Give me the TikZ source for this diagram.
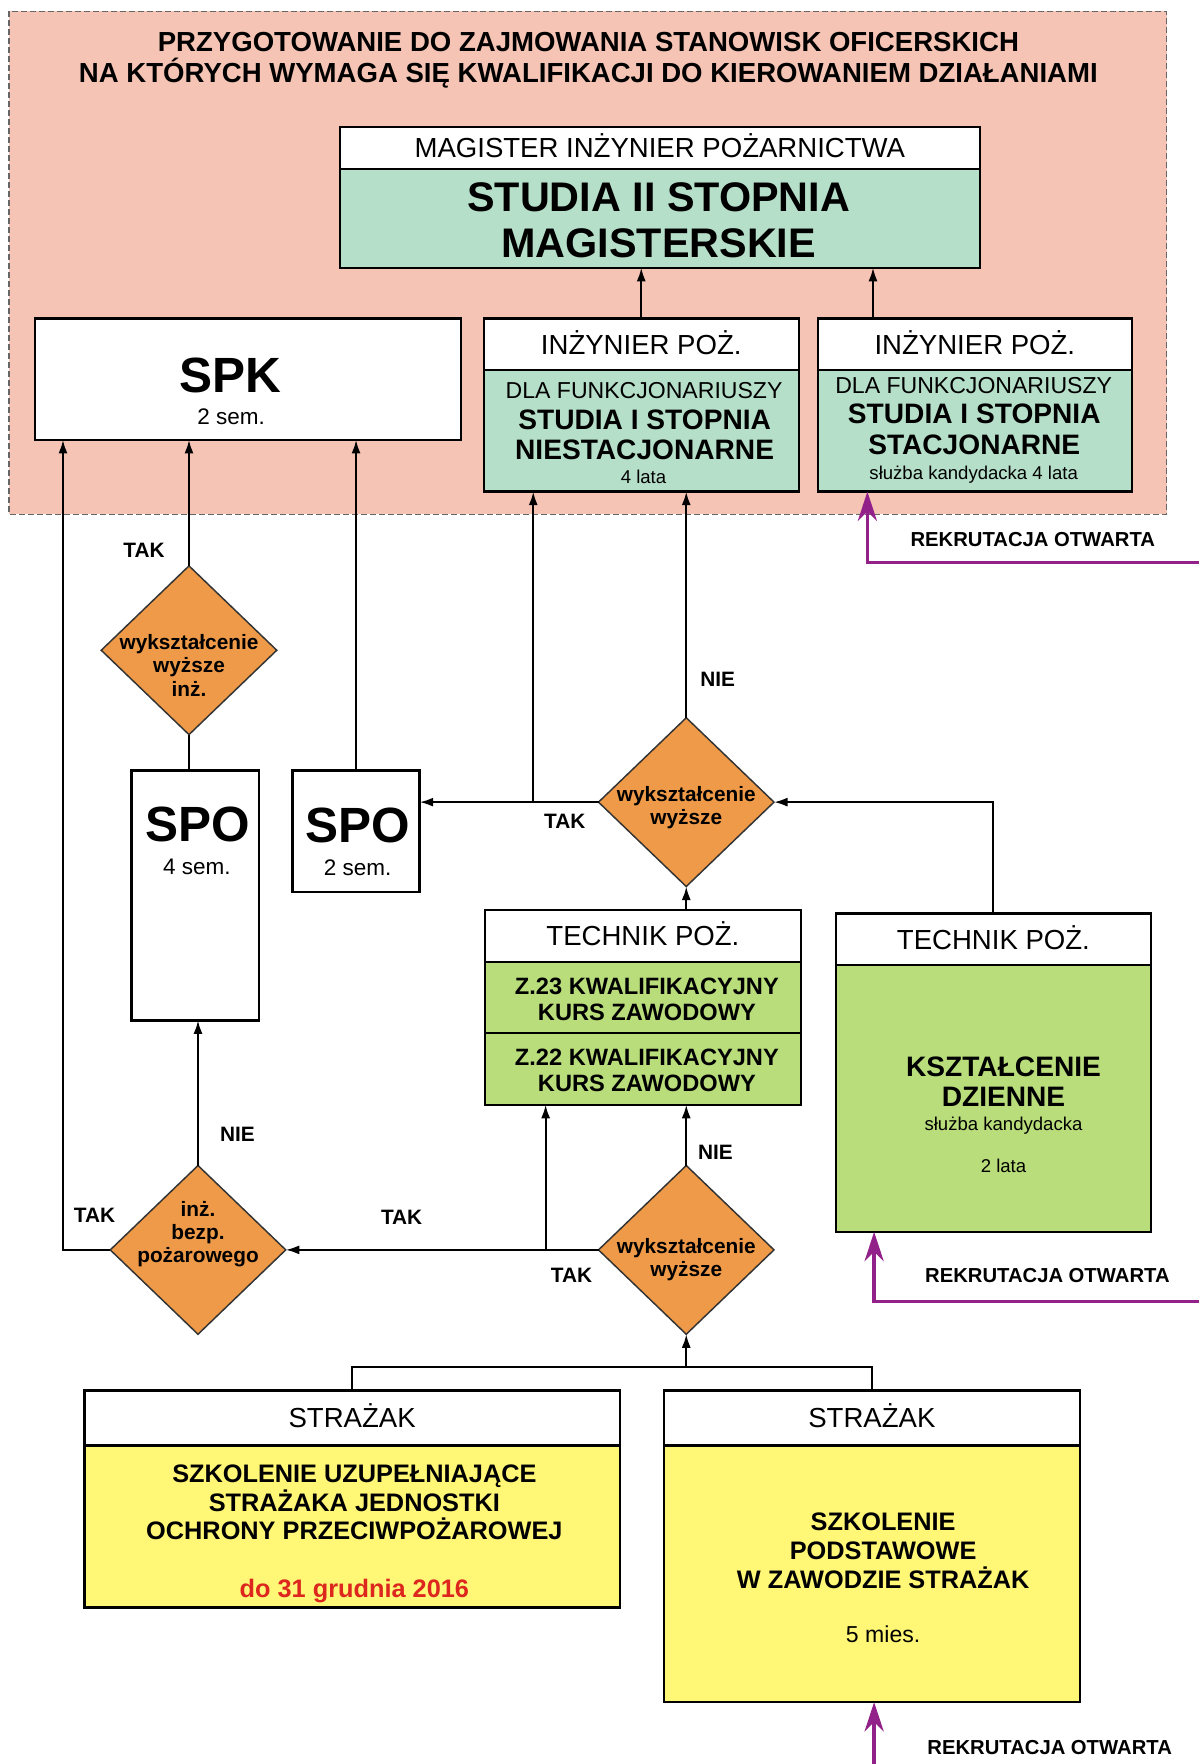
\documentclass[tikz,border=0pt]{standalone}
\usepackage{fontspec}
\setmainfont{Liberation Sans}
\usetikzlibrary{shapes.geometric,arrows.meta}

\begin{document}
\begin{tikzpicture}[x=1pt,y=-1pt,
  stagebox/.style={draw, line width=2.2pt, inner sep=0pt, outer sep=0pt, anchor=north west},
  headbox/.style={stagebox, fill=white, text height=17.5pt, text depth=0pt, font=\fontsize{24.5}{27}\selectfont},
  decision/.style={diamond, draw=black!80, line width=1.3pt, fill=decorange, inner sep=0pt, outer sep=0pt, minimum width=156pt, minimum height=150pt},
  dectext/.style={align=center, font=\bfseries\fontsize{18.5}{20.5}\selectfont},
  answer/.style={font=\bfseries\fontsize{18.5}{20}\selectfont},
  rectext/.style={font=\bfseries\fontsize{18}{20}\selectfont},
  bigname/.style={anchor=base, font=\bfseries\fontsize{44}{48}\selectfont},
  semtext/.style={anchor=base, font=\fontsize{20}{24}\selectfont},
  dlatext/.style={anchor=base, font=\fontsize{20.5}{24}\selectfont},
  smalltext/.style={anchor=base, font=\fontsize{16.5}{19}\selectfont},
  inztext/.style={align=center, font=\bfseries\fontsize{25}{27}\selectfont},
  kurstext/.style={align=center, font=\bfseries\fontsize{21}{23}\selectfont},
  szkoltext/.style={align=center, font=\bfseries\fontsize{22.5}{25.5}\selectfont},
  plainline/.style={line width=1.8pt},
  link/.style={plainline, -{Latex[length=12pt,width=8pt]}},
  recruit/.style={draw=recpurple, line width=3pt, -{Stealth[length=26pt,width=17pt]}}]

  % Define colors for the fills
  \definecolor{bgpink}{RGB}{246,196,180}
  \definecolor{mint}{RGB}{181,223,200}
  \definecolor{limefill}{RGB}{184,221,122}
  \definecolor{yellowfill}{RGB}{255,247,117}
  \definecolor{decorange}{RGB}{238,154,72}
  \definecolor{recpurple}{RGB}{146,33,137}
  \definecolor{datered}{RGB}{220,38,30}

  \useasboundingbox (0,0) rectangle (1066,1568);

  % Officer area in the background
  \draw[dash pattern=on 5pt off 3pt, draw=black!60, line width=1pt, fill=bgpink] (8,10) rectangle (1037,457);
  \node[font=\bfseries\fontsize{24.5}{27}\selectfont, align=center] (title) at (523,53.5)
    {PRZYGOTOWANIE DO ZAJMOWANIA STANOWISK OFICERSKICH\\NA KTÓRYCH WYMAGA SIĘ KWALIFIKACJI DO KIEROWANIEM DZIAŁANIAMI};

  % Master studies
  \node[headbox, minimum width=569pt, minimum height=37pt] (mgrhead) at (302,113) {MAGISTER INŻYNIER POŻARNICTWA};
  \node[stagebox, fill=mint, minimum width=569pt, minimum height=88pt] (mgr) at (302,150) {};
  \node[align=center, font=\bfseries\fontsize{36.75}{41}\selectfont] (mgrtext) at (585.5,196) {STUDIA II STOPNIA\\MAGISTERSKIE};

  % SPK
  \node[stagebox, fill=white, minimum width=379pt, minimum height=108pt] (spk) at (31,283) {};
  \node[bigname] (spkname) at (205,349) {SPK};
  \node[semtext] (spksem) at (205.5,377) {2 sem.};

  % Engineer studies
  \node[headbox, minimum width=280pt, minimum height=46pt] (niesthead) at (430,283) {INŻYNIER POŻ.};
  \node[stagebox, fill=mint, minimum width=280pt, minimum height=108pt] (niest) at (430,329) {};
  \node[dlatext] (niestdla) at (572.5,354.5) {DLA FUNKCJONARIUSZY};
  \node[inztext] (nieststudia) at (573,386.5) {STUDIA I STOPNIA\\NIESTACJONARNE};
  \node[smalltext] (niestlata) at (572,430) {4 lata};

  \node[headbox, minimum width=279pt, minimum height=46pt] (stachead) at (727,283) {INŻYNIER POŻ.};
  \node[stagebox, fill=mint, minimum width=279pt, minimum height=108pt] (stac) at (727,329) {};
  \node[dlatext] (stacdla) at (865.5,349.5) {DLA FUNKCJONARIUSZY};
  \node[inztext] (stacstudia) at (866,381.5) {STUDIA I STOPNIA\\STACJONARNE};
  \node[smalltext] (staclata) at (865.5,426) {służba kandydacka 4 lata};

  % SPO boxes
  \node[stagebox, fill=white, minimum width=113pt, minimum height=222pt] (spo4) at (117,685) {};
  \node[bigname] (spo4name) at (176,748) {SPO};
  \node[semtext] (spo4sem) at (175,777) {4 sem.};
  \node[stagebox, fill=white, minimum width=113pt, minimum height=108pt] (spo2) at (260,685) {};
  \node[bigname] (spo2name) at (318,749) {SPO};
  \node[semtext] (spo2sem) at (318,778) {2 sem.};

  % Technician
  \node[headbox, minimum width=281pt, minimum height=46pt] (techhead) at (431,809) {TECHNIK POŻ.};
  \node[stagebox, fill=limefill, minimum width=281pt, minimum height=63pt] (z23) at (431,855) {};
  \node[kurstext] (z23text) at (575,888.5) {Z.23 KWALIFIKACYJNY\\KURS ZAWODOWY};
  \node[stagebox, fill=limefill, minimum width=281pt, minimum height=64pt] (z22) at (431,918) {};
  \node[kurstext] (z22text) at (575,951.5) {Z.22 KWALIFIKACYJNY\\KURS ZAWODOWY};

  \node[headbox, minimum width=280pt, minimum height=46pt] (dzhead) at (743,812) {TECHNIK POŻ.};
  \node[stagebox, fill=limefill, minimum width=280pt, minimum height=237pt] (dz) at (743,858) {};
  \node[inztext] (dztext) at (892,961.5) {KSZTAŁCENIE\\DZIENNE};
  \node[smalltext] (dzsluzba) at (892,1005) {służba kandydacka};
  \node[smalltext] (dzlata) at (892,1042) {2 lata};

  % Firefighter
  \node[headbox, minimum width=476pt, minimum height=49pt] (strlhead) at (75,1236) {STRAŻAK};
  \node[stagebox, fill=yellowfill, minimum width=476pt, minimum height=144pt] (strl) at (75,1285) {};
  \node[szkoltext] (strltext) at (315,1335.5) {SZKOLENIE UZUPEŁNIAJĄCE\\STRAŻAKA JEDNOSTKI\\OCHRONY PRZECIWPOŻAROWEJ};
  \node[anchor=base, font=\bfseries\fontsize{22.5}{25}\selectfont, text=datered] (strldate) at (315,1420) {do 31 grudnia 2016};

  \node[headbox, minimum width=370pt, minimum height=49pt] (strrhead) at (590,1236) {STRAŻAK};
  \node[stagebox, fill=yellowfill, minimum width=370pt, minimum height=228pt] (strr) at (590,1285) {};
  \node[szkoltext] (strrtext) at (785,1378.5) {SZKOLENIE\\PODSTAWOWE\\W ZAWODZIE STRAŻAK};
  \node[dlatext] (strrmies) at (785,1460) {5 mies.};

  % Decisions
  \node[decision] (d1) at (168,578) {};
  \node[dectext] (d1text) at (168,591.5) {wykształcenie\\wyższe\\inż.};
  \node[decision] (d2) at (610,713) {};
  \node[dectext] (d2text) at (610,717.5) {wykształcenie\\wyższe};
  \node[decision] (d3) at (610,1111) {};
  \node[dectext] (d3text) at (610,1120) {wykształcenie\\wyższe};
  \node[decision] (d4) at (176,1111) {};
  \node[dectext] (d4text) at (176,1097) {inż.\\bezp.\\pożarowego};

  % Add answers
  \node[answer] (tak1) at (128,489) {TAK};
  \node[answer] (nie1) at (638,604) {NIE};
  \node[answer] (tak2) at (502,730) {TAK};
  \node[answer] (nie2) at (211,1008) {NIE};
  \node[answer] (tak3) at (84,1080) {TAK};
  \node[answer] (tak4) at (357,1082) {TAK};
  \node[answer] (tak5) at (508,1134) {TAK};
  \node[answer] (nie3) at (636,1024) {NIE};

  % Connectors
  \coordinate (stacout) at ([xshift=49pt]stachead.north west);
  \draw[link] (niesthead.north) -- (niesthead.north |- mgr.south);
  \draw[link] (stacout) -- (stacout |- mgr.south);

  \coordinate (spkin) at ([xshift=25pt]spk.south west);
  \draw[link] (d1.north) -- (d1.north |- spk.south);
  \draw[link] (spo2.north) -- (spo2.north |- spk.south);
  \draw[link] (d4.west) -| (spkin);
  \draw[plainline] (d1.south) -- (d1.south |- spo4.north);

  \coordinate (taksplit) at (474,713);
  \draw[link] (d2.west) -- (d2.west -| spo2.east);
  \draw[link] (taksplit) -- (taksplit |- niest.south);
  \draw[link] (d2.north) -- (d2.north |- niest.south);
  \draw[link] (dzhead.north) |- (d2.east);
  \draw[link] (d2.south |- techhead.north) -- (d2.south);

  \coordinate (z22split) at (485,1111);
  \draw[link] (d3.north) -- (d3.north |- z22.south);
  \draw[link] (d3.west) -- (d4.east);
  \draw[link] (z22split) -- (z22split |- z22.south);
  \draw[link] (d4.north) -- (d4.north |- spo4.south);

  \coordinate (strsplit) at (610,1215);
  \draw[plainline] (strlhead.north) -- ++(0,-21) -| (strrhead.north);
  \draw[link] (strsplit) -- (d3.south);

  % Open recruitment
  \coordinate (rec1) at (1066,500);
  \coordinate (rec1in) at ([xshift=44pt]stac.south west);
  \coordinate (rec2) at (1066,1157);
  \coordinate (rec2in) at ([xshift=34pt]dz.south west);
  \coordinate (rec3) at (777,1568);
  \draw[recruit] (rec1) -| (rec1in);
  \draw[recruit] (rec2) -| (rec2in);
  \draw[recruit] (rec3) -- (rec3 |- strr.south);
  \node[rectext] (rec1text) at (918,480) {REKRUTACJA OTWARTA};
  \node[rectext] (rec2text) at (931,1134) {REKRUTACJA OTWARTA};
  \node[rectext] (rec3text) at (933,1553) {REKRUTACJA OTWARTA};
\end{tikzpicture}
\end{document}
